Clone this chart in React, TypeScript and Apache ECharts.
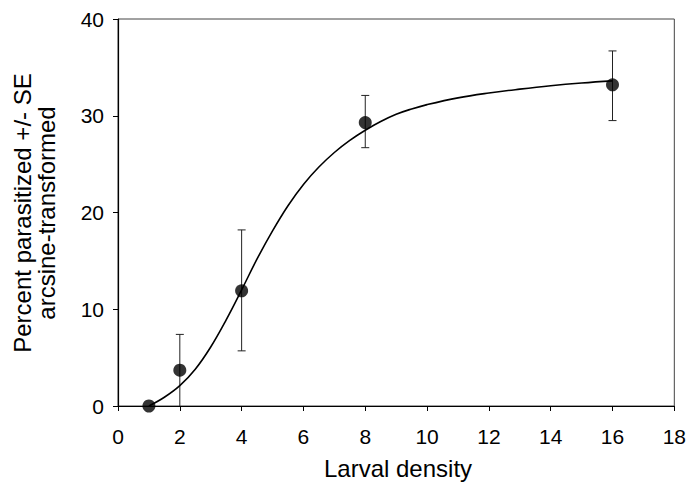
import React, { useEffect, useRef } from "react";
import * as echarts from "echarts";

const xPoints = [1, 2, 4, 8, 16];
const yMeans = [0, 3.7, 11.9, 29.3, 33.2];
const seLow = [0, 0, 5.7, 26.7, 29.5];
const seHigh = [0, 7.4, 18.2, 32.1, 36.7];

const curveX = [1, 1.5, 2, 2.5, 3, 3.5, 4, 4.5, 5, 5.5, 6, 6.5, 7, 7.5, 8, 8.5, 9, 9.5, 10, 11, 12, 13, 14, 15, 16];
const curveY = [0, 0.9, 2.1, 3.8, 6.1, 8.9, 12.0, 15.2, 18.1, 20.7, 22.9, 24.7, 26.2, 27.45, 28.5, 29.4, 30.15, 30.7, 31.15, 31.85, 32.35, 32.75, 33.1, 33.38, 33.6];

const xTicks = [0, 2, 4, 6, 8, 10, 12, 14, 16, 18];
const yTicks = [0, 10, 20, 30, 40];

const FONT = "Liberation Sans, Arial, sans-serif";

export default function App() {
  const ref = useRef<HTMLDivElement>(null);
  useEffect(() => {
    if (!ref.current) return;
    const chart = echarts.init(ref.current, null, { renderer: "svg" });
    const errData = xPoints.map((x, i) => [x, seLow[i], seHigh[i]]);
    chart.setOption({
      animation: false,
      backgroundColor: "#fff",
      grid: { left: 118, right: 12, top: 19, bottom: 76, show: true, borderColor: "#444", borderWidth: 1 },
      xAxis: {
        type: "value",
        min: xTicks[0],
        max: xTicks[xTicks.length - 1],
        interval: 2,
        axisLine: { show: true, onZero: false, lineStyle: { color: "#000", width: 1.2 } },
        axisTick: { show: true, length: 5, lineStyle: { color: "#000" } },
        axisLabel: { color: "#000", fontSize: 21, fontFamily: FONT, margin: 20 },
        splitLine: { show: false },
      },
      yAxis: {
        type: "value",
        min: yTicks[0],
        max: yTicks[yTicks.length - 1],
        interval: 10,
        axisLine: { show: true, onZero: false, lineStyle: { color: "#000", width: 1.2 } },
        axisTick: { show: true, length: 5, lineStyle: { color: "#000" } },
        axisLabel: { color: "#000", fontSize: 21, fontFamily: FONT, margin: 14 },
        splitLine: { show: false },
      },
      graphic: [
        {
          type: "text",
          x: 22,
          y: 213,
          rotation: Math.PI / 2,
          style: {
            text: "Percent parasitized +/- SE",
            fontSize: 24,
            fontFamily: FONT,
            fill: "#000",
            textAlign: "center",
            textVerticalAlign: "middle",
          },
        },
        {
          type: "text",
          x: 46,
          y: 213,
          rotation: Math.PI / 2,
          style: {
            text: "arcsine-transformed",
            fontSize: 24,
            fontFamily: FONT,
            fill: "#000",
            textAlign: "center",
            textVerticalAlign: "middle",
          },
        },
        {
          type: "text",
          x: 398,
          y: 468,
          style: {
            text: "Larval density",
            fontSize: 24,
            fontFamily: FONT,
            fill: "#000",
            textAlign: "center",
            textVerticalAlign: "middle",
          },
        },
      ],
      series: [
        {
          type: "custom",
          data: errData,
          z: 2,
          renderItem: (params: any, api: any) => {
            const x = api.value(0);
            const lo = api.value(1);
            const hi = api.value(2);
            if (hi === lo) return null;
            const p1 = api.coord([x, lo]);
            const p2 = api.coord([x, hi]);
            const cap = 4;
            const style = { stroke: "#222", lineWidth: 1 };
            const children: any[] = [
              { type: "line", shape: { x1: p1[0], y1: p1[1], x2: p2[0], y2: p2[1] }, style },
              { type: "line", shape: { x1: p2[0] - cap, y1: p2[1], x2: p2[0] + cap, y2: p2[1] }, style },
            ];
            if (lo > 0) {
              children.push({ type: "line", shape: { x1: p1[0] - cap, y1: p1[1], x2: p1[0] + cap, y2: p1[1] }, style });
            }
            return { type: "group", children };
          },
        },
        {
          type: "line",
          data: curveX.map((x, i) => [x, curveY[i]]),
          smooth: 0.4,
          showSymbol: false,
          symbol: "none",
          lineStyle: { color: "#000", width: 1.6 },
          z: 3,
        },
        {
          type: "scatter",
          data: xPoints.map((x, i) => [x, yMeans[i]]),
          symbol: "circle",
          symbolSize: 13,
          itemStyle: { color: "#000" },
          z: 4,
        },
      ],
    });
    return () => chart.dispose();
  }, []);
  return <div ref={ref} style={{ width: 689, height: 482, position: "absolute", left: 0, top: 0 }} />;
}
